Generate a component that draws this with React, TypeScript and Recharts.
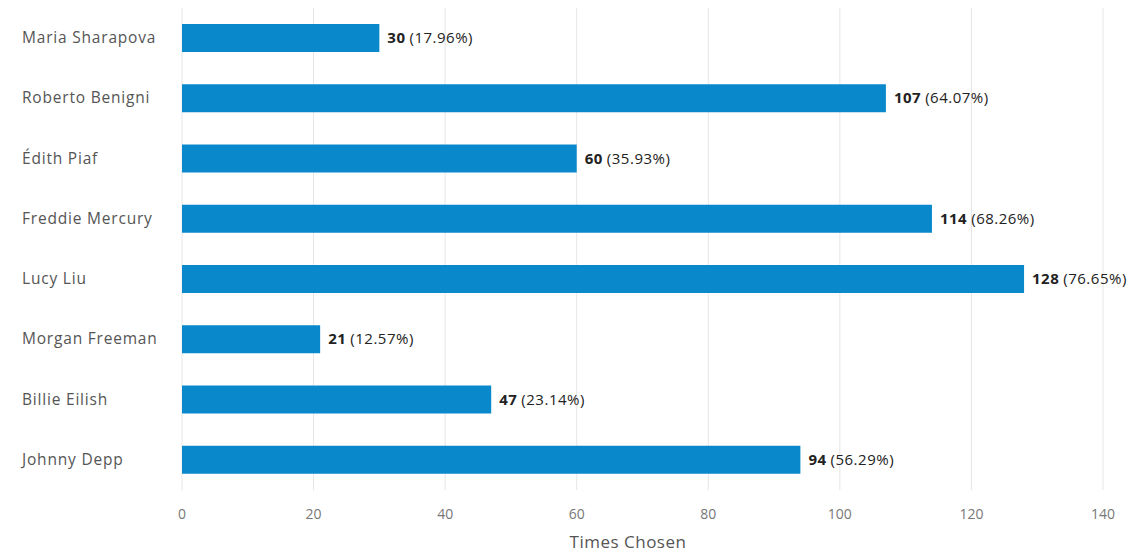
import React from 'react';
import { BarChart, Bar, XAxis, YAxis, CartesianGrid, LabelList } from 'recharts';

const names = [
    'Maria Sharapova',
    'Roberto Benigni',
    'Édith Piaf',
    'Freddie Mercury',
    'Lucy Liu',
    'Morgan Freeman',
    'Billie Eilish',
    'Johnny Depp'
];
const counts = [30, 107, 60, 114, 128, 21, 47, 94];
const shares = ['17.96%', '64.07%', '35.93%', '68.26%', '76.65%', '12.57%', '23.14%', '56.29%'];
const xTicks = [0, 20, 40, 60, 80, 100, 120, 140];

const FONT = '"Open Sans", "Noto Sans", sans-serif';

const data = names.map((name, i) => ({ name, count: counts[i], share: shares[i] }));

// left aligned category labels
const NameTick = ({ y, payload }: any) => (
    <text x={22} y={y} dy={5} textAnchor="start" fontFamily={FONT} fontSize={15.5} letterSpacing={0.8} fill="#555">
        {payload.value}
    </text>
);

// "30 (17.96%)" with the count in bold
const ValueLabel = ({ x, y, width, height, index }: any) => (
    <text x={x + width + 8} y={y + height / 2} dy={5} fontFamily={FONT} fontSize={15} letterSpacing={0.5} fill="#222">
        <tspan fontWeight="bold">{counts[index]}</tspan>
        <tspan dx={4}>({shares[index]})</tspan>
    </text>
);

const AxisTitle = ({ viewBox }: any) => (
    <text x={628} y={viewBox.y + viewBox.height} textAnchor="middle" fontFamily={FONT} fontSize={17} letterSpacing={0.5} fill="#555">
        Times Chosen
    </text>
);

const App: React.FC = () => {
    return (
        <div style={{ position: 'absolute', left: 0, top: 0, background: '#fff' }}>
            <BarChart
                width={1131}
                height={554}
                data={data}
                layout="vertical"
                margin={{ top: 8, right: 28, left: 0, bottom: 6 }}
            >
                <CartesianGrid horizontal={false} stroke="#e6e6e6" />
                <XAxis
                    type="number"
                    domain={[0, 140]}
                    ticks={xTicks}
                    axisLine={false}
                    tickLine={false}
                    tick={{ fontFamily: FONT, fontSize: 14, fill: '#777' }}
                    tickMargin={13}
                    height={58}
                    label={<AxisTitle />}
                />
                <YAxis
                    type="category"
                    dataKey="name"
                    width={182}
                    axisLine={false}
                    tickLine={false}
                    tick={<NameTick />}
                    interval={0}
                />
                <Bar dataKey="count" fill="#0a88cc" barSize={28} isAnimationActive={false}>
                    <LabelList dataKey="count" content={<ValueLabel />} />
                </Bar>
            </BarChart>
        </div>
    );
};

export default App;
